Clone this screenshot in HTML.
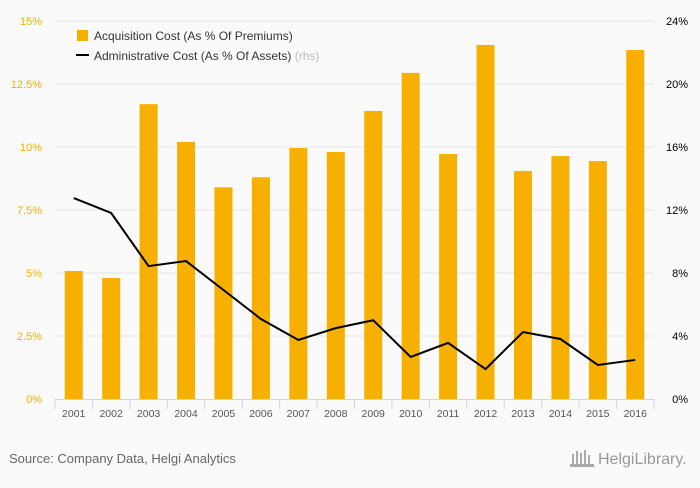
<!DOCTYPE html>
<html><head><meta charset="utf-8"><style>
body{margin:0;background:#fafafa;font-family:"Liberation Sans",sans-serif}
svg text{font-family:"Liberation Sans",sans-serif}
</style></head><body>
<svg width="700" height="483" xmlns="http://www.w3.org/2000/svg">
<rect width="700" height="483" fill="#fafafa"/>
<g id="grid"></g><g id="bars"></g><g id="axes"></g><g id="line"></g>
<g>
<rect x="77" y="30" width="11" height="11" fill="#f8b000"/>
<text x="94" y="40" font-size="12" fill="#333">Acquisition Cost (As % Of Premiums)</text>
<line x1="76" y1="55" x2="89" y2="55" stroke="#000" stroke-width="2"/>
<text x="94" y="60" font-size="12" fill="#333">Administrative Cost (As % Of Assets) <tspan fill="#bbb">(rhs)</tspan></text>
</g>
<text x="9" y="463" font-size="13" fill="#666">Source: Company Data, Helgi Analytics</text>
<text x="598" y="464" font-size="16" fill="#999">HelgiLibrary.</text>
<g fill="#aaa"><rect x="572" y="454" width="2" height="12"/><rect x="576" y="451" width="2" height="15"/><rect x="580" y="453" width="2" height="13"/><rect x="584" y="450" width="2" height="16"/><rect x="588" y="455" width="2" height="11"/><rect x="570" y="464" width="24" height="3"/></g>
</svg>
<script>
const years=["2001","2002","2003","2004","2005","2006","2007","2008","2009","2010","2011","2012","2013","2014","2015","2016"];
const acquisition=[5.08,4.8,11.7,10.2,8.4,8.8,9.96,9.8,11.43,12.94,9.72,14.05,9.05,9.64,9.44,13.85];
const admin=[12.76,11.81,8.44,8.76,6.92,5.08,3.75,4.5,5.0,2.67,3.56,1.9,4.25,3.81,2.16,2.48];
const leftTicks=["0%","2.5%","5%","7.5%","10%","12.5%","15%"];
const rightTicks=["0%","4%","8%","12%","16%","20%","24%"];
const NS="http://www.w3.org/2000/svg";
const X0=55,X1=654,Y0=399,Y1=21;
const bw=(X1-X0)/years.length;
const xc=i=>X0+bw*(i+0.5);
const yL=v=>Y0-(v/15)*(Y0-Y1);
const yR=v=>Y0-(v/24)*(Y0-Y1);
function mk(t,a,p){const e=document.createElementNS(NS,t);for(const k in a)e.setAttribute(k,a[k]);p.appendChild(e);return e;}
const grid=document.getElementById('grid'),bars=document.getElementById('bars'),axes=document.getElementById('axes'),line=document.getElementById('line');
leftTicks.forEach((t,i)=>{
 const y=Y0-i*(Y0-Y1)/6;
 if(i>0){const g=mk('line',{x1:X0,x2:X1,y1:y,y2:y,stroke:'#e6e6e6'},grid);
 
 }
 const l=mk('text',{x:42,y:y+4,'text-anchor':'end','font-size':11,fill:'#f8b000'},axes);l.textContent=t;
 
 
 const r=mk('text',{x:688,y:y+4,'text-anchor':'end','font-size':11,fill:'#000'},axes);r.textContent=rightTicks[i];
 
 
});
acquisition.forEach((v,i)=>{
 const b=mk('rect',{x:xc(i)-9,y:yL(v),width:18,height:Y0-yL(v),fill:'#f8b000'},bars);
 
 
 const t=mk('text',{x:xc(i),y:417,'text-anchor':'middle','font-size':10.5,fill:'#555'},axes);t.textContent=years[i];
 
 
});
const ax=mk('line',{x1:X0,x2:X1,y1:Y0+0.5,y2:Y0+0.5,stroke:'#ccd6eb'},axes);


for(let i=0;i<=years.length;i++){const tk=mk('line',{x1:X0+bw*i,x2:X0+bw*i,y1:Y0,y2:Y0+10,stroke:'#ccd6eb'},axes);
 
 }
const pl=mk('polyline',{points:admin.map((v,i)=>xc(i)+','+yR(v)).join(' '),fill:'none',stroke:'#000','stroke-width':2},line);


</script>
</body></html>
